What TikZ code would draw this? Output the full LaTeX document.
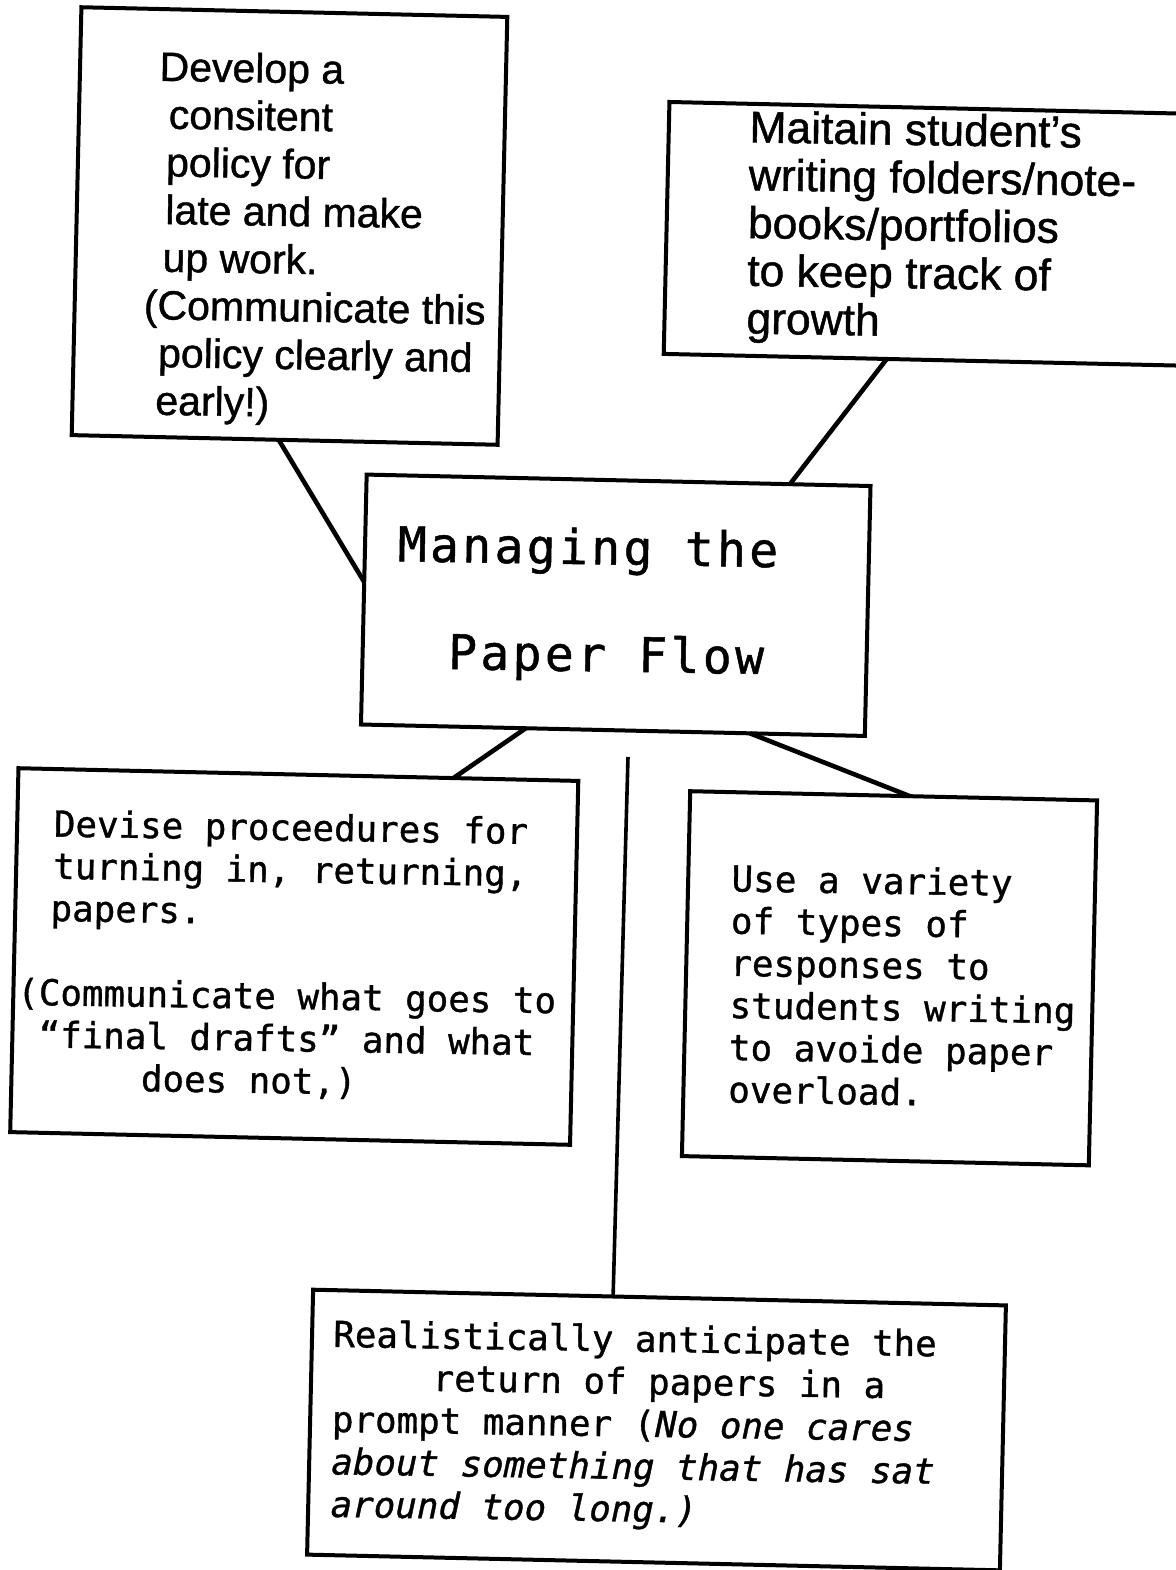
\documentclass[tikz,border=0pt]{standalone}
\usepackage{fontspec}
\setmainfont{Liberation Sans}[FakeBold=1]
\newfontfamily\sansf{Liberation Sans}[FakeBold=1]
\newfontfamily\monof{DejaVu Sans Mono}[ItalicFont={DejaVu Sans Mono Oblique}, FakeBold=1]
\newfontfamily\titlef{DejaVu Sans Mono}[LetterSpace=7, FakeBold=1]
\usetikzlibrary{calc}
\begin{document}
\begin{tikzpicture}[x=0.5pt,y=-0.5pt,
  box/.style={draw, line width=2pt, rectangle, inner sep=0pt, outer sep=0pt, rotate=-1.3},
  link/.style={line width=2.3pt},
  txt/.style={inner sep=0pt, outer sep=0pt, align=left, anchor=west, rotate=-0.9}]
\useasboundingbox (0,0) rectangle (1176,1570);
\clip (0,0) rectangle (1176,1570);
% boxes
\node[box, minimum width=213pt, minimum height=214pt] (b1) at (289.5,226) {};
\node[box, minimum width=267.5pt, minimum height=126pt] (b2) at (934,234) {};
\node[box, minimum width=252pt, minimum height=125pt] (c) at (615.75,605.25) {};
\node[box, minimum width=280pt, minimum height=182pt] (b3) at (294.25,956.5) {};
\node[box, minimum width=203.5pt, minimum height=182.5pt] (b4) at (889.5,978.25) {};
\node[box, minimum width=346.5pt, minimum height=132.5pt] (b5) at (656.5,1430) {};
% texts
\node[txt, font=\sansf\fontsize{20.5pt}{23.85pt}\selectfont] (t1) at (145,237) {%
\hspace*{6pt}Develop a\\ \hspace*{11pt}consitent\\ \hspace*{10pt}policy for\\ \hspace*{10pt}late and make\\ \hspace*{9pt}up work.\\ (Communicate this\\ \hspace*{7.5pt}policy clearly and\\ \hspace*{6.5pt}early!)};
\node[txt, font=\sansf\fontsize{22.2pt}{23.9pt}\selectfont] (t2) at (748,226.5) {%
Maitain student’s\\ writing folders/note-\\ books/portfolios\\ to keep track of\\ growth};
\node[txt, font=\titlef\fontsize{24pt}{53.5pt}\selectfont] (tc) at (397,601.5) {%
Managing the\\ \hspace*{26pt}Paper Flow};
\node[txt, font=\monof\fontsize{17.9pt}{21.1pt}\selectfont] (t3) at (18,951.5) {%
\hspace*{17pt}Devise proceedures for\\ \hspace*{17pt}turning in, returning,\\ \hspace*{16pt}papers.\\ \mbox{}\\ (Communicate what goes to\\ \hspace*{11pt}“final drafts” and what\\ \hspace*{62.5pt}does not,)};
\node[txt, font=\monof\fontsize{17.95pt}{21.1pt}\selectfont] (t4) at (730,983.5) {%
Use a variety\\ of types of\\ responses to\\ students writing\\ to avoide paper\\ overload.};
\node[txt, font=\monof\fontsize{17.9pt}{21.25pt}\selectfont] (t5) at (332,1422) {%
Realistically anticipate the\\ \hspace*{50pt}return of papers in a\\ prompt manner ({\itshape No one cares}\\ {\itshape about something that has sat}\\ {\itshape around too long.)}};
% connectors
\draw[link] ($(b1.south west)!0.486!(b1.south east)$) -- ($(c.north west)!0.43!(c.south west)$);
\draw[link] ($(b2.south west)!0.417!(b2.south east)$) -- ($(c.north west)!0.84!(c.north east)$);
\draw[link] ($(c.south west)!0.327!(c.south east)$) -- ($(b3.north west)!0.777!(b3.north east)$);
\draw[link] ($(c.south west)!0.772!(c.south east)$) -- ($(b4.north west)!0.54!(b4.north east)$);
\coordinate (vtop) at (628,757);
\draw[line width=1.8pt] (vtop) -- ($(b5.north west)!0.433!(b5.north east)$);
\end{tikzpicture}
\end{document}
